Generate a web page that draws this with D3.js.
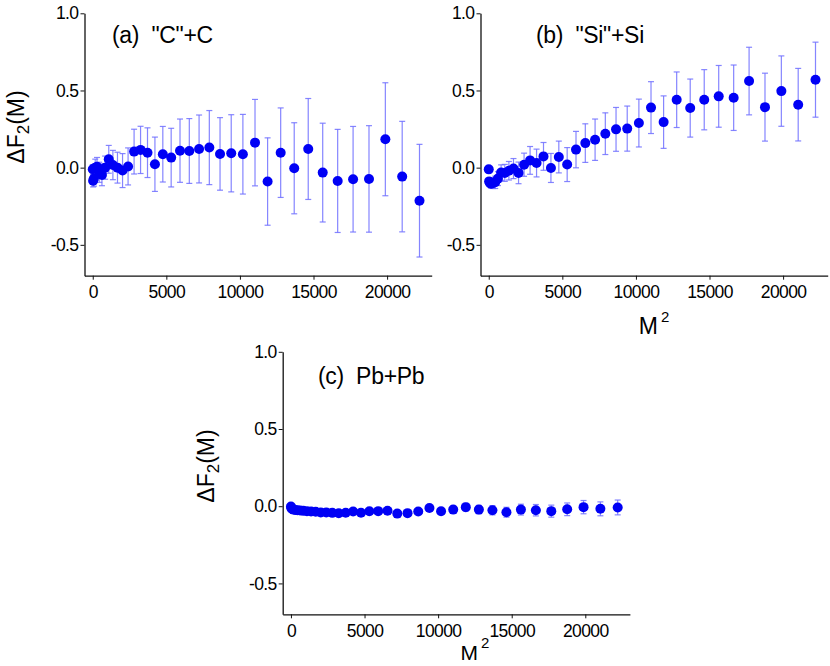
<!DOCTYPE html>
<html><head><meta charset="utf-8">
<script src="https://cdn.jsdelivr.net/npm/d3@7/dist/d3.min.js"></script>
<style>body{margin:0;background:#fff}svg{display:block}</style>
</head><body>
<svg id="chart" width="830" height="666"></svg>
<script>
// M^2 bin positions (shared by all panels)
const m2 = [1,25,81,169,289,441,625,841,1089,1369,1681,2025,2401,2809,3249,3721,4225,4761,5329,5929,6561,7225,7921,8649,9409,10201,11025,11881,12769,13689,14641,15625,16641,17689,18769,19881,21025,22201];

// (a) "C"+C
const yC = [-0.01,-0.085,-0.07,0.0,0.006,-0.03,-0.047,0.0,0.054,0.017,0.0,-0.019,0.008,0.104,0.115,0.097,0.022,0.087,0.065,0.11,0.108,0.121,0.13,0.089,0.093,0.087,0.162,-0.09,0.097,-0.004,0.121,-0.032,-0.086,-0.075,-0.073,0.184,-0.058,-0.214];
const eC = [0.03,0.04,0.05,0.055,0.06,0.065,0.07,0.075,0.09,0.095,0.1,0.11,0.12,0.145,0.153,0.161,0.176,0.18,0.19,0.205,0.21,0.22,0.24,0.235,0.25,0.258,0.28,0.283,0.29,0.295,0.327,0.32,0.334,0.342,0.345,0.366,0.358,0.365];

// (b) "Si"+Si
const ySi = [-0.011,-0.089,-0.1,-0.104,-0.1,-0.095,-0.071,-0.032,-0.034,-0.02,-0.006,-0.034,0.019,0.047,0.03,0.073,-0.002,0.069,0.02,0.117,0.159,0.181,0.22,0.248,0.253,0.289,0.389,0.295,0.44,0.386,0.44,0.462,0.453,0.561,0.392,0.496,0.408,0.57];
const eSi = [0.01,0.02,0.025,0.03,0.035,0.04,0.045,0.05,0.055,0.06,0.065,0.07,0.075,0.09,0.09,0.09,0.094,0.103,0.11,0.118,0.125,0.134,0.135,0.142,0.146,0.155,0.168,0.17,0.18,0.188,0.195,0.2,0.212,0.219,0.22,0.228,0.235,0.243];

// (c) Pb+Pb
const yPb = [-0.002,-0.012,-0.018,-0.022,-0.025,-0.026,-0.028,-0.03,-0.032,-0.034,-0.036,-0.04,-0.04,-0.043,-0.046,-0.042,-0.034,-0.042,-0.033,-0.032,-0.029,-0.048,-0.045,-0.034,-0.012,-0.033,-0.022,-0.006,-0.022,-0.026,-0.039,-0.022,-0.026,-0.032,-0.02,-0.006,-0.017,-0.008];
const ePb = [0.003,0.003,0.004,0.004,0.005,0.005,0.006,0.006,0.007,0.007,0.008,0.008,0.009,0.009,0.01,0.01,0.011,0.012,0.012,0.013,0.014,0.014,0.015,0.015,0.017,0.02,0.022,0.025,0.027,0.03,0.032,0.035,0.037,0.039,0.041,0.043,0.045,0.048];

const xMajor = [0,5000,10000,15000,20000];
const xMinor = [2500,7500,12500,17500,22500];
const yMajor = [-0.5,0,0.5,1.0];
const yMajorLabels = ["-0.5","0.0","0.5","1.0"];
const yMinor = [-0.25,0.25,0.75];
const titles = ['(a)  "C"+C', '(b)  "Si"+Si', '(c)  Pb+Pb'];

const FONT = "'Liberation Sans', Arial, Helvetica, sans-serif";
const svg = d3.select("#chart");

const panels = [
  {ys: yC, es: eC, title: titles[0], x0: 84.5, x1: 431.7, yb: 275.7, yt: 13.3, tx: 112, ty: 43, ylab: [24,127], xlab: null},
  {ys: ySi, es: eSi, title: titles[1], x0: 480.5, x1: 827.7, yb: 275.7, yt: 13.3, tx: 536, ty: 43, ylab: null, xlab: [654, 334, 23]},
  {ys: yPb, es: ePb, title: titles[2], x0: 282.7, x1: 629.9, yb: 614.3, yt: 351.8, tx: 318, ty: 384, ylab: [214,466], xlab: [475, 660, 21]}
];

panels.forEach(p => {
  const x = d3.scaleLinear().domain([-560, 23030]).range([p.x0, p.x1]);
  const y = d3.scaleLinear().domain([-0.7, 1.0]).range([p.yb, p.yt]);
  const g = svg.append("g");

  // axes
  const gx = g.append("g").attr("transform", `translate(0,${p.yb})`);
  gx.call(d3.axisBottom(x).tickValues(xMinor).tickSize(3).tickSizeOuter(0).tickFormat(""));
  gx.call(d3.axisBottom(x).tickValues(xMajor).tickSize(4).tickSizeOuter(0).tickPadding(6).tickFormat(d3.format("d")));
  const gy = g.append("g").attr("transform", `translate(${p.x0},0)`);
  gy.call(d3.axisLeft(y).tickValues(yMinor).tickSize(3).tickSizeOuter(0).tickFormat(""));
  gy.call(d3.axisLeft(y).tickValues(yMajor).tickSize(4).tickSizeOuter(0).tickPadding(2).tickFormat((d,i)=>yMajorLabels[i]));
  g.selectAll(".domain").attr("stroke", "#111").attr("stroke-width", 1.3);
  g.selectAll(".tick line").attr("stroke", "#111");
  g.selectAll(".tick text").attr("font-family", FONT).attr("font-size", 17.5).attr("letter-spacing", -0.6).attr("fill", "#000");

  // error bars
  const eb = g.append("g").attr("stroke", "#7070ff").attr("stroke-opacity", 0.85).attr("stroke-width", 1.2).attr("fill", "none");
  m2.forEach((m, i) => {
    const cx = x(m), lo = y(p.ys[i] - p.es[i]), hi = y(p.ys[i] + p.es[i]);
    eb.append("line").attr("x1", cx).attr("x2", cx).attr("y1", lo).attr("y2", hi);
    eb.append("line").attr("x1", cx-3).attr("x2", cx+3).attr("y1", lo).attr("y2", lo);
    eb.append("line").attr("x1", cx-3).attr("x2", cx+3).attr("y1", hi).attr("y2", hi);
  });
  // points
  g.append("g").selectAll("circle").data(m2).join("circle")
    .attr("cx", d => x(d)).attr("cy", (d,i) => y(p.ys[i])).attr("r", 5).attr("fill", "#0000f5");

  // title
  g.append("text").attr("x", p.tx).attr("y", p.ty).attr("font-family", FONT).attr("font-size", 23)
    .attr("letter-spacing", -0.3).style("white-space", "pre").attr("fill", "#000").text(p.title);

  // y label
  if (p.ylab) {
    const t = g.append("text").attr("transform", `translate(${p.ylab[0]},${p.ylab[1]}) rotate(-90)`)
      .attr("text-anchor", "middle").attr("font-family", FONT).attr("font-size", 23).attr("fill", "#000");
    t.append("tspan").text("\u0394F");
    t.append("tspan").attr("font-size", 17).attr("dy", 5).text("2");
    t.append("tspan").attr("dy", -5).text("(M)");
  }
  // x label
  if (p.xlab) {
    const t = g.append("text").attr("x", p.xlab[0]).attr("y", p.xlab[1])
      .attr("text-anchor", "middle").attr("font-family", FONT).attr("font-size", p.xlab[2]).attr("fill", "#000");
    t.append("tspan").text("M");
    t.append("tspan").attr("font-size", 15).attr("dx", 3).attr("dy", -12).text("2");
  }
});
</script>
</body></html>
